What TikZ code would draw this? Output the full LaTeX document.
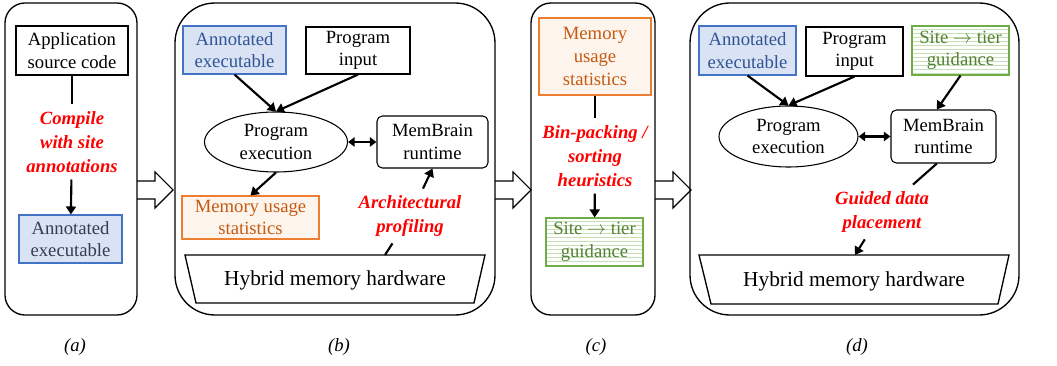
\documentclass[tikz,border=0pt]{standalone}
\usepackage{fontspec}
\setmainfont{Liberation Serif}
\usetikzlibrary{arrows.meta,patterns,shapes.geometric}
\definecolor{annfill}{HTML}{DAE3F3}
\definecolor{annline}{HTML}{4472C4}
\definecolor{anntext}{HTML}{2F5597}
\definecolor{annatext}{HTML}{333F50}
\definecolor{statline}{HTML}{ED7D31}
\definecolor{stattext}{HTML}{C55A11}
\definecolor{statfill}{HTML}{FEF8F3}
\definecolor{statdot}{HTML}{FAD9C2}
\definecolor{guidline}{HTML}{70AD47}
\definecolor{guidtext}{HTML}{548235}
\definecolor{guidstripe}{HTML}{C5E0B4}
\begin{document}
\begin{tikzpicture}[x=0.75pt,y=-0.75pt,
	every node/.style={font=\fontsize{14}{17}\selectfont,align=center,inner sep=1pt},
	panel/.style={draw,line width=1pt},
	box/.style={draw,line width=0.8pt},
	annbox/.style={box,draw=annline,fill=annfill,text=anntext},
	statbox/.style={box,draw=statline,text=stattext,preaction={fill=statfill},pattern=crosshatch dots,pattern color=statdot},
	guidbox/.style={box,draw=guidline,text=guidtext,preaction={fill=white},pattern=horizontal lines,pattern color=guidstripe},
	note/.style={text=red,font=\fontsize{14}{18}\selectfont\bfseries\itshape,inner sep=5pt},
	hwtext/.style={font=\fontsize{16}{19}\selectfont},
	conn/.style={line width=1.6pt},
	arr/.style={conn,-{Triangle[length=6pt,width=7.5pt]}},
	darr/.style={conn,{Triangle[length=5pt,width=7pt]}-{Triangle[length=5pt,width=7pt]}},
	sub/.style={font=\fontsize{14}{17}\selectfont\itshape}]
	\useasboundingbox (0,0) rectangle (1057,366);
	\foreach \x in {137,495,655}
		\draw[line width=0.8pt] (\x,181) -- ++(18,0) -- ++(0,-9) -- ++(18,18) -- ++(-18,18) -- ++(0,-9) -- ++(-18,0);
	\draw[panel,rounded corners=15pt] (5,3) rectangle (137,315);
	\draw[panel,rounded corners=30pt] (175,3) rectangle (495,315);
	\draw[panel,rounded corners=15pt] (531,3) rectangle (655,315);
	\draw[panel,rounded corners=30pt] (690,3) rectangle (1019,315);

	\node[box,minimum width=84pt,minimum height=36.75pt] (src) at (72,50.5) {Application\\source code};
	\node[note] (compile) at (72,142) {Compile\\with site\\annotations};
	\node[annbox,text=annatext,minimum width=77.25pt,minimum height=36pt] (anna) at (70.5,239) {Annotated\\executable};
	\draw[conn] (src) -- (compile);
	\draw[arr] (compile) -- (anna);

	\node[annbox,minimum width=77.25pt,minimum height=36pt] (annb) at (234.5,50) {Annotated\\executable};
	\node[box,minimum width=78pt,minimum height=35.25pt] (inpb) at (358,50.5) {Program\\input};
	\node[box,ellipse,minimum width=107.25pt,minimum height=45pt] (exeb) at (276,142) {Program\\execution};
	\node[box,rounded corners=4pt,minimum width=83.25pt,minimum height=39pt] (rtb) at (432.5,142) {MemBrain\\runtime};
	\node[statbox,minimum width=102.75pt,minimum height=32.25pt] (statb) at (250.5,217.5) {Memory usage\\statistics};
	\node[note] (prof) at (410,216) {Architectural\\profiling};
	\draw[box,line width=1pt] (185,255) -- (485,255) -- (474,303) -- (196,303) -- cycle;
	\node[hwtext] (hwb) at (335,280) {Hybrid memory hardware};
	\coordinate (hwbtop) at (385,255);
	\draw[arr] (annb.south) -- (exeb.north);
	\draw[arr] (inpb.south) -- (exeb.north);
	\draw[darr] (exeb) -- (rtb);
	\draw[arr] (exeb.south) -- (statb.north);
	\draw[conn] (hwbtop) -- (prof);
	\draw[arr] (prof) -- (rtb.south);

	\node[statbox,minimum width=84pt,minimum height=57.75pt] (statc) at (595,56.5) {Memory\\usage\\statistics};
	\node[note] (heur) at (595,156) {Bin-packing /\\sorting\\heuristics};
	\node[guidbox,minimum width=72.75pt,minimum height=36pt] (guidc) at (594.5,242) {Site $\rightarrow$ tier\\guidance};
	\draw[conn] (statc) -- (heur);
	\draw[arr] (heur) -- (guidc);

	\node[annbox,minimum width=72.75pt,minimum height=36.75pt] (annd) at (747.5,50.5) {Annotated\\executable};
	\node[box,minimum width=72.75pt,minimum height=36.75pt] (inpd) at (854.5,51.5) {Program\\input};
	\node[guidbox,minimum width=72.75pt,minimum height=36.75pt] (guidd) at (960.5,50.5) {Site $\rightarrow$ tier\\guidance};
	\node[box,ellipse,minimum width=104.25pt,minimum height=45.75pt] (exed) at (788.5,136.5) {Program\\execution};
	\node[box,rounded corners=4pt,minimum width=78.75pt,minimum height=39.75pt] (rtd) at (943.5,136.5) {MemBrain\\runtime};
	\node[note] (guided) at (882,212) {Guided data\\placement};
	\draw[box,line width=1pt] (699,255) -- (1009,255) -- (998,304) -- (711,304) -- cycle;
	\node[hwtext] (hwd) at (854,281) {Hybrid memory hardware};
	\coordinate (hwdtop) at (855,255);
	\draw[arr] (annd.south) -- (exed.north);
	\draw[arr] (inpd.south) -- (exed.north);
	\draw[arr] (guidd.south) -- ([xshift=-5pt]rtd.north);
	\draw[darr] (exed) -- (rtd);
	\draw[conn] ([xshift=-5pt]rtd.south) -- (guided);
	\draw[arr] (guided) -- (hwdtop);

	\node[sub] (laba) at (75,347) {(a)};
	\node[sub] (labb) at (339,347) {(b)};
	\node[sub] (labc) at (596,347) {(c)};
	\node[sub] (labd) at (857,347) {(d)};
\end{tikzpicture}
\end{document}
